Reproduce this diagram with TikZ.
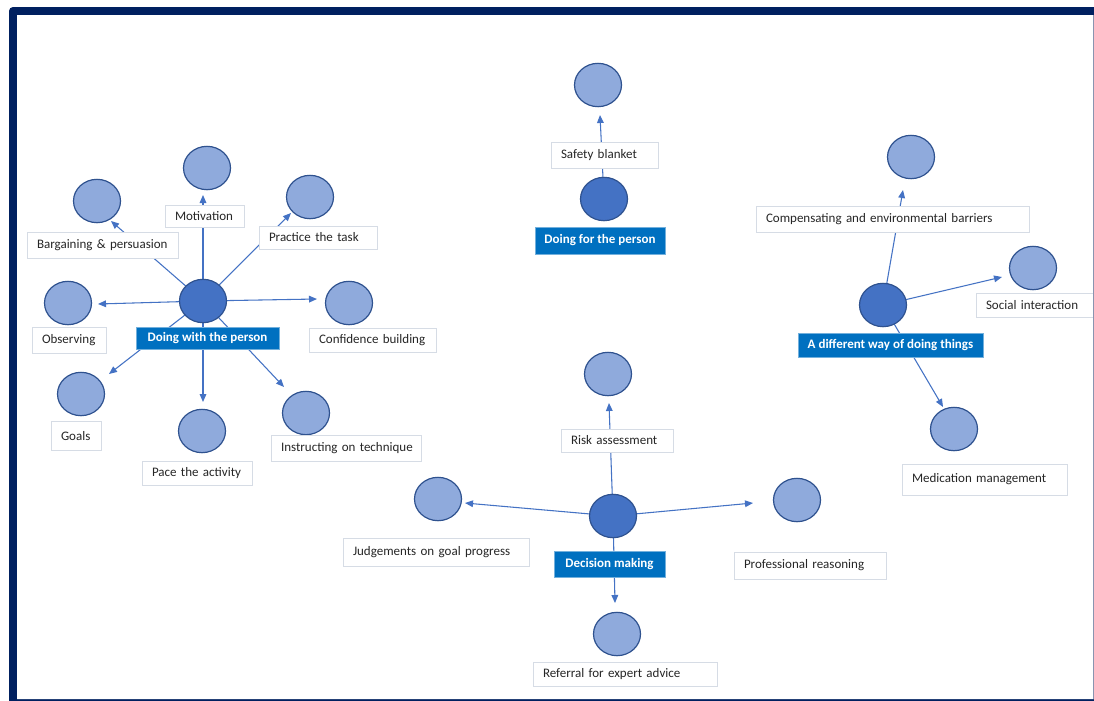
\documentclass[tikz,border=0pt]{standalone}
\usepackage{fontspec}
\setmainfont{Carlito}
\usetikzlibrary{shapes.geometric,arrows.meta}
\definecolor{framecol}{HTML}{002060}
\definecolor{hubfill}{HTML}{4472C4}
\definecolor{leaffill}{HTML}{8FAADC}
\definecolor{ringline}{HTML}{2F528F}
\definecolor{tagfill}{HTML}{0070C0}
\definecolor{boxline}{HTML}{D6DCE5}
\definecolor{linkcol}{HTML}{4472C4}
\definecolor{edgegray}{HTML}{8A94B0}
\pgfdeclarelayer{bg}
\pgfdeclarelayer{links}
\pgfsetlayers{bg,links,main}

\begin{document}
\begin{tikzpicture}[x=0.75pt,y=-0.75pt,
  every node/.style={font=\fontsize{9.75}{11.7}\selectfont},
  leaf/.style={ellipse, draw=ringline, line width=0.9pt, fill=leaffill,
    minimum width=35.25pt, minimum height=32.5pt, inner sep=0pt},
  hub/.style={leaf, fill=hubfill},
  tbox/.style 2 args={draw=boxline, line width=0.75pt, fill=white,
    minimum height=#2*0.75pt, text width=(#1-20)*0.75pt,
    inner xsep=7.5pt, inner ysep=0pt, align=left, text=black!85},
  tag/.style 2 args={draw=tagfill!55!white, line width=0.75pt, fill=tagfill,
    text=white, font=\fontsize{9.75}{11.7}\selectfont\bfseries,
    minimum width=#1*0.75pt, minimum height=#2*0.75pt, inner sep=0pt},
  link/.style={draw=linkcol, line width=0.8pt, -{Triangle[length=6pt,width=5pt]}}
]
\useasboundingbox (0,0) rectangle (1094,700);

% page and frame
\begin{pgfonlayer}{bg}
  \fill[white] (0,0) rectangle (1094,700);
  \fill[framecol, rounded corners=3pt] (9,7) rectangle (1110,715);
  \fill[white] (17,15) rectangle (1093,699);
\end{pgfonlayer}

% ---- Doing with the person ----
\node[hub]  (W)   at (203,301) {};
\node[leaf] (mot) at (207,168) {};
\node[leaf] (bar) at (97,201)  {};
\node[leaf] (pra) at (310,197) {};
\node[leaf] (obs) at (68,303)  {};
\node[leaf] (con) at (349,303) {};
\node[leaf] (goa) at (81,394)  {};
\node[leaf] (pac) at (202,431) {};
\node[leaf] (ins) at (306,413) {};

\node[tbox={79}{22}]  (bmot) at (204.5,216) {Motivation};
\node[tbox={151}{26}] (bbar) at (102.5,245) {Bargaining \& persuasion};
\node[tbox={118}{23}] (bpra) at (318,237.5) {Practice the task};
\node[tbox={74}{26}]  (bobs) at (69,340)    {Observing};
\node[tbox={127}{24}] (bcon) at (372.5,340) {Confidence building};
\node[tbox={50}{29}]  (bgoa) at (76,436)    {Goals};
\node[tbox={110}{24}] (bpac) at (197,473)   {Pace the activity};
\node[tbox={150}{26}] (bins) at (346,448)   {\mbox{Instructing on technique}};
\node[tag={143}{22}]  (gW)   at (207.5,338) {Doing with the person};

\coordinate (tmot) at (203,195);
\coordinate (tbar) at (111,221);
\coordinate (tpra) at (291,213);
\coordinate (tobs) at (98,304);
\coordinate (tcon) at (317,299);
\coordinate (tgoa) at (109,374);
\coordinate (tpac) at (203,402);
\coordinate (tins) at (284,387);

% ---- Doing for the person ----
\node[hub]  (F)   at (604,199) {};
\node[leaf] (saf) at (598,85)  {};
\node[tbox={107}{26}] (bsaf) at (604.5,155) {Safety blanket};
\node[tag={130}{27}]  (gF)   at (600,240.5) {Doing for the person};
\coordinate (tsaf) at (600,115);

% ---- A different way of doing things ----
\node[hub]  (A)   at (883,305)  {};
\node[leaf] (com) at (911,157)  {};
\node[leaf] (soc) at (1033,268) {};
\node[leaf] (med) at (954,429)  {};
\node[tbox={273}{26}] (bcom) at (892.5,219) {Compensating and environmental barriers};
\node[tbox={130}{24}] (bsoc) at (1041,305)  {Social interaction};
\node[tbox={165}{31}] (bmed) at (984.5,479.5) {Medication management};
\node[tag={185}{24}]  (gA)   at (890.5,345) {A different way of doing things};
\coordinate (tcom) at (903,190);
\coordinate (tsoc) at (1002,277);
\coordinate (tmed) at (943,407);

% ---- Decision making ----
\node[hub]  (D)   at (613,516) {};
\node[leaf] (ris) at (608,374) {};
\node[leaf] (jud) at (438,499) {};
\node[leaf] (pro) at (797,500) {};
\node[leaf] (ref) at (617,634) {};
\node[tbox={112}{23}] (bris) at (617,440.5) {Risk assessment};
\node[tbox={186}{28}] (bjud) at (436,552)   {Judgements on goal progress};
\node[tbox={152}{27}] (bpro) at (810,565.5) {Professional reasoning};
\node[tbox={184}{24}] (bref) at (625,674)   {Referral for expert advice};
\node[tag={111}{26}]  (gD)   at (609.5,564) {Decision making};
\coordinate (tris) at (609,403);
\coordinate (tjud) at (465,503);
\coordinate (tpro) at (753,503);
\coordinate (tref) at (615,603);

% connectors, kept beneath circles and boxes
\begin{pgfonlayer}{links}
  \foreach \t in {mot,bar,pra,obs,con,goa,pac,ins}
    \draw[link] (W.center) -- (t\t);
  \draw[link] (F.center) -- (tsaf);
  \foreach \t in {com,soc,med}
    \draw[link] (A.center) -- (t\t);
  \foreach \t in {ris,jud,pro,ref}
    \draw[link] (D.center) -- (t\t);
\end{pgfonlayer}

% thin right and bottom edges of the frame
\draw[edgegray, line width=0.9pt] (1093.5,15) -- (1093.5,700);
\draw[framecol!85, line width=0.9pt] (17,699.5) -- (1094,699.5);
\end{tikzpicture}
\end{document}
